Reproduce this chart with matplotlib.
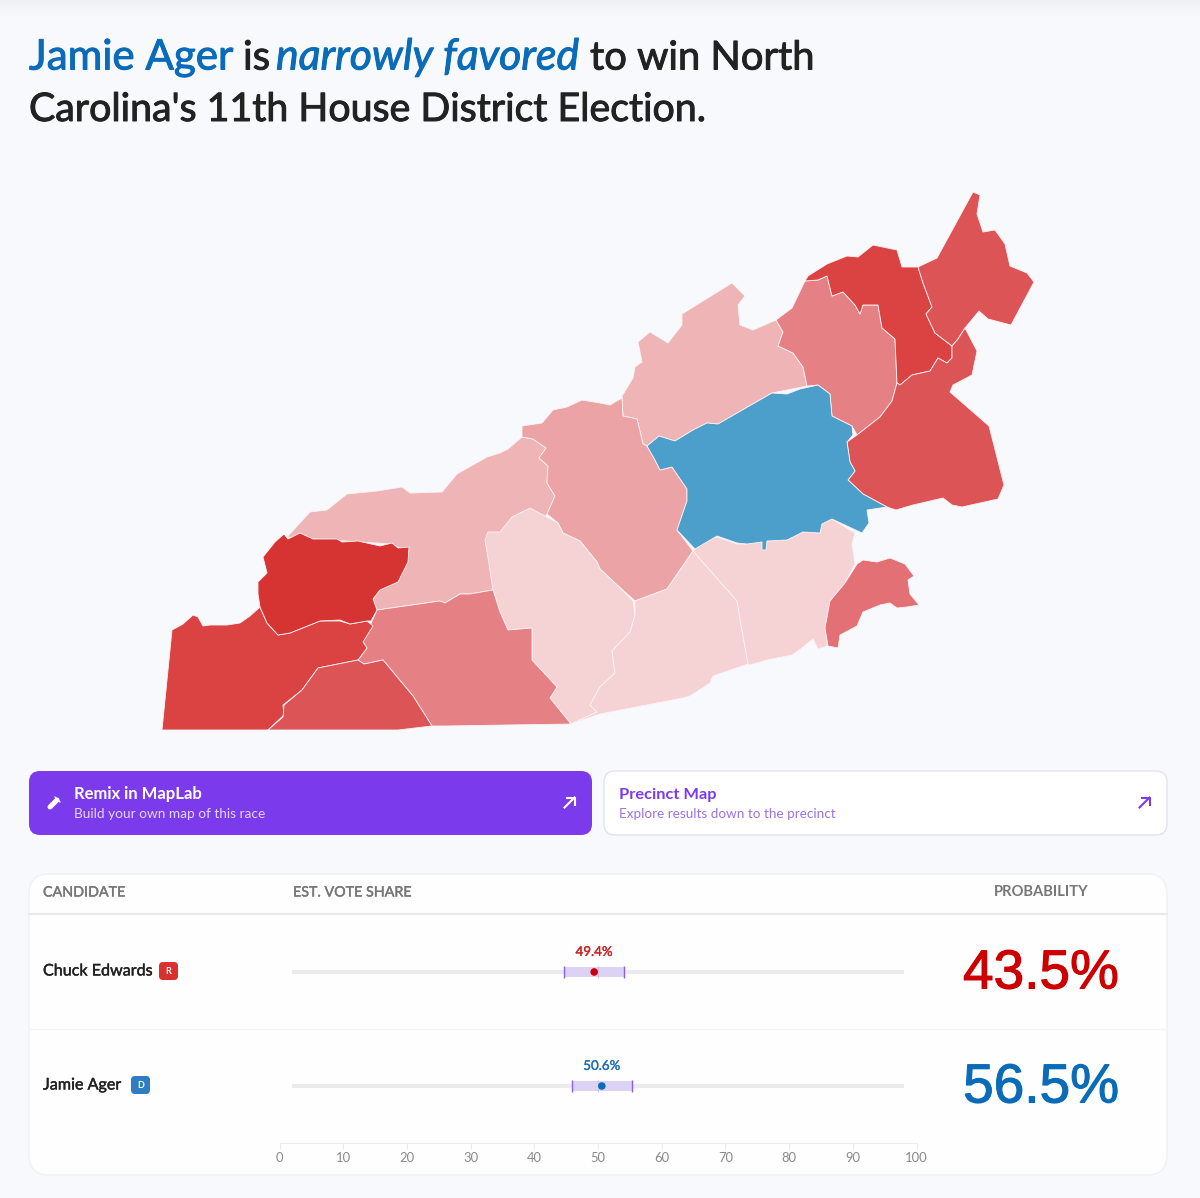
import numpy as np
import matplotlib
matplotlib.use('Agg')
import matplotlib.pyplot as plt
import matplotlib.patheffects as pe
from matplotlib.patches import FancyBboxPatch, Polygon

plt.rcParams['font.family'] = ['Lato', 'DejaVu Sans']

# candidates table
candidates = ['Chuck Edwards', 'Jamie Ager']
parties = ['R', 'D']
vote_share = [49.4, 50.6]
vote_low = [44.7, 45.9]
vote_high = [54.1, 55.3]
win_prob = [43.5, 56.5]
track_range = [2, 98]
axis_ticks = [0, 10, 20, 30, 40, 50, 60, 70, 80, 90, 100]

# county outlines (image pixels)
swain = [(287,537),(300,523),(310,512),(327,510),(347,494),(377,491),(402,487),(410,493),(442,492),(457,474),
         (487,457),(500,453),(508,449),(522,437),(533,439),(546,448),(539,458),(548,466),(547,483),(555,496),
         (548,512),(520,560),(493,590),(470,594),(460,594),(445,603),(440,601),(377,610),(373,601),(377,590),
         (397,582),(409,551),(390,544)]
madison = [(622,396),(633,378),(635,367),(642,362),(638,342),(650,332),(668,343),(682,325),(682,314),(703,301),
           (732,283),(745,296),(738,305),(740,325),(753,330),(776,320),(783,332),(778,346),(793,353),(803,367),
           (807,386),(772,393),(718,424),(707,423),(693,430),(675,441),(659,436),(647,446),(643,444),(637,419),(623,416)]
haywood = [(522,426),(542,423),(553,410),(567,407),(582,400),(600,403),(610,405),(622,398),(623,416),(637,419),
           (643,444),(647,446),(655,460),(660,470),(672,467),(687,489),(687,501),(677,530),(693,551),(667,589),
           (635,601),(615,583),(600,569),(597,562),(580,541),(563,533),(558,523),(547,514),(555,496),(547,483),
           (548,466),(539,458),(546,448),(533,439),(522,437)]
jackson = [(485,540),(488,532),(500,532),(512,517),(530,508),(558,523),(563,533),(580,541),(597,562),(600,569),
           (615,583),(633,601),(635,615),(630,632),(612,651),(615,673),(600,687),(590,705),(597,712),(571,724),
           (550,698),(557,687),(532,660),(532,628),(508,630),(500,612),(493,590),(488,558)]
transylvania = [(635,601),(667,589),(693,551),(737,601),(740,619),(748,664),(713,676),(710,683),(690,696),(683,698),
                (600,714),(571,724),(597,712),(590,705),(600,687),(615,673),(612,651),(630,632),(635,615)]
henderson = [(693,551),(707,539),(717,537),(737,544),(747,544),(755,542),(763,542),(765,549),(767,541),(787,540),
             (803,532),(820,533),(822,524),(832,519),(855,533),(852,544),(855,564),(845,583),(833,601),(827,626),
             (827,646),(818,649),(813,639),(802,648),(792,655),(767,660),(750,665),(748,664),(740,619),(737,601)]
macon = [(377,610),(440,601),(445,603),(460,594),(470,594),(493,590),(500,612),(508,630),(532,628),(532,660),
         (557,687),(550,698),(571,724),(445,726),(432,726),(413,696),(398,678),(383,660),(364,664),(358,660),
         (367,648),(363,642)]
polk = [(857,564),(863,560),(877,562),(890,558),(905,564),(914,576),(908,580),(910,594),(919,605),(907,607),
        (897,608),(890,603),(880,605),(863,612),(857,626),(840,635),(838,648),(828,646),(825,628),(830,601),(845,583)]
cherokee = [(172,630),(183,624),(193,615),(198,617),(203,626),(210,625),(227,625),(240,623),(250,616),(260,607),
            (267,623),(278,635),(290,633),(320,621),(340,621),(350,624),(367,621),(373,626),(363,642),(367,648),
            (358,660),(338,664),(318,668),(302,690),(283,705),(284,715),(268,730),(162,730)]
clay = [(268,730),(283,717),(284,705),(302,690),(318,668),(338,664),(358,660),(364,664),(383,660),(398,678),
        (413,696),(432,726),(398,730)]
graham = [(284,534),(288,539),(300,533),(313,539),(337,539),(342,542),(358,541),(380,546),(392,543),(398,548),
          (409,547),(408,562),(398,582),(380,590),(373,599),(377,610),(371,621),(367,621),(350,624),(340,620),
          (320,621),(290,633),(278,635),(267,623),(260,607),(258,594),(258,582),(267,573),(263,557),(275,542)]
yancey = [(776,320),(792,308),(805,281),(818,280),(827,276),(832,296),(843,292),(855,305),(860,314),(863,305),
          (878,305),(882,328),(895,339),(897,383),(892,401),(880,417),(857,435),(852,426),(832,416),(830,394),
          (818,385),(807,386),(803,367),(793,353),(778,346),(783,332)]
mitchell = [(808,276),(827,264),(847,256),(858,257),(873,245),(897,250),(902,267),(918,267),(923,283),(932,307),
            (926,314),(935,333),(952,346),(952,358),(947,363),(938,358),(930,371),(912,375),(900,385),(897,383),
            (895,339),(882,328),(878,305),(863,305),(860,314),(855,305),(843,292),(832,296),(827,276),(818,280),(805,281)]
avery = [(918,267),(937,258),(973,192),(980,195),(977,214),(983,232),(995,230),(1005,244),(1010,266),(1027,273),
         (1034,282),(1011,325),(988,319),(979,311),(965,328),(958,339),(952,346),(935,333),(926,314),(932,307),(923,283)]
mcdowell = [(900,385),(912,375),(930,371),(938,358),(947,363),(952,358),(952,346),(958,339),(965,328),(977,351),
            (972,375),(953,385),(950,392),(989,426),(1004,485),(998,499),(962,507),(952,505),(943,498),(913,505),
            (896,510),(887,507),(863,494),(848,480),(855,471),(850,462),(847,442),(857,435),(880,417),(892,401),(897,383)]
buncombe = [(647,446),(659,436),(675,441),(693,430),(707,423),(718,424),(772,393),(787,394),(800,389),(818,385),
            (830,394),(832,416),(852,426),(853,435),(847,442),(850,462),(855,471),(848,480),(863,494),(887,507),
            (867,510),(869,523),(862,533),(832,519),(822,524),(820,533),(803,532),(787,540),(767,541),(766,550),
            (762,550),(762,542),(747,544),(737,543),(717,536),(695,549),(677,530),(687,501),(687,489),(672,467),
            (660,470),(655,460)]

county_shapes = [swain, madison, haywood, jackson, transylvania, henderson, macon, polk,
                 cherokee, clay, graham, yancey, mitchell, avery, mcdowell, buncombe]
county_colors = ['#efb4b6', '#efb4b6', '#eca3a5', '#f5d3d5', '#f5d3d5', '#f5d3d5', '#e58084', '#e37074',
                 '#db4343', '#dd5457', '#d63333', '#e58084', '#db4343', '#dd5457', '#dd5457', '#4d9fcb']

BG = '#f8f9fd'
PURPLE = '#7c3aed'
RED = '#cc0000'
BLUE = '#0a6cb8'
party_colors = ['#d9312e', '#2f7cc3']
label_colors = ['#cc2222', '#1f6fb5']
prob_colors = [RED, BLUE]


def heavier(width, col):
    # the reference uses a medium weight that Lato does not have here
    return [pe.withStroke(linewidth=width, foreground=col)]


fig = plt.figure(figsize=(12, 11.98), dpi=100, facecolor=BG)
ax = fig.add_axes([0, 0, 1, 1])
ax.set_axis_off()

# strip along the top edge
ax.imshow(np.linspace(0, 1, 16).reshape(-1, 1), extent=(0, 1200, 16, 0), aspect='auto',
          cmap=matplotlib.colors.LinearSegmentedColormap.from_list('strip', ['#eeeff2', BG]))
ax.set_xlim(0, 1200)
ax.set_ylim(1198, 0)

# title, one piece per colour / style, sized to the widths in the reference
title_parts = [('Jamie Ager', 29, 69.5, '#0a6cb8', 'normal', 30.3),
               ('is', 243, 69.5, '#222222', 'normal', 29),
               ('narrowly favored', 276, 69.5, '#0a6cb8', 'italic', 30.8),
               ('to win North', 590, 69.5, '#222222', 'normal', 28.7),
               ("Carolina's 11th House District Election.", 29, 121, '#222222', 'normal', 28.3)]
for txt, x, y, col, sty, size in title_parts:
    ax.text(x, y, txt, fontsize=size, color=col, style=sty, va='baseline', ha='left',
            path_effects=heavier(0.7, col))

# map
for shape, col in zip(county_shapes, county_colors):
    ax.add_patch(Polygon(shape, closed=True, facecolor=col, edgecolor='#fdf3f3', lw=0.6, joinstyle='round'))

# buttons
ax.add_patch(FancyBboxPatch((29, 771), 563, 64, boxstyle='round,pad=0,rounding_size=11', fc=PURPLE, ec='none'))
ax.add_patch(FancyBboxPatch((604, 771), 563, 64, boxstyle='round,pad=0,rounding_size=11', fc='white', ec='#e3ddf6', lw=0.9))
ax.text(74, 794.5, 'Remix in MapLab', fontsize=12, weight='bold', color='white', va='center')
ax.text(74, 814, 'Build your own map of this race', fontsize=9.8, color='#e2d6fb', va='center')
ax.text(619, 794.5, 'Precinct Map', fontsize=11.8, weight='bold', color=PURPLE, va='center')
ax.text(619, 814, 'Explore results down to the precinct', fontsize=9.75, color='#9b72e8', va='center')
ax.plot([50, 57], [807, 800], color='white', lw=3.6, solid_capstyle='round')
ax.plot([55, 60], [797, 802], color='white', lw=1, solid_capstyle='round')
for x, col in [(569.5, 'white'), (1144.5, PURPLE)]:
    ax.plot([x - 5, x + 5], [807.5, 797.5], color=col, lw=1.5)
    ax.plot([x - 2.5, x + 5.5, x + 5.5], [797.5, 797.5, 805], color=col, lw=1.5)

# table panel
ax.add_patch(FancyBboxPatch((29, 874), 1138, 301, boxstyle='round,pad=0,rounding_size=20', fc='#fefefe', ec='#f0f1f4', lw=1))
ax.plot([29, 1167], [914, 914], color='#e9e9ec', lw=1.5)
ax.plot([29, 1167], [1028.5, 1028.5], color='#f4f4f6', lw=1)
ax.text(43, 892.5, 'CANDIDATE', fontsize=10.3, color='#777777', va='center', path_effects=heavier(0.3, '#777777'))
ax.text(293, 892.5, 'EST. VOTE SHARE', fontsize=10.3, color='#777777', va='center', path_effects=heavier(0.3, '#777777'))
ax.text(1041, 892.5, 'PROBABILITY', fontsize=10.6, color='#777777', va='center', ha='center', weight='bold')

row_y = [971, 1085]
badge_x = [159, 131]
for i, name in enumerate(candidates):
    ax.text(43, row_y[i] + 0.5, name, fontsize=11.6, color='#222222', va='center', path_effects=heavier(0.3, '#222222'))
    ax.add_patch(FancyBboxPatch((badge_x[i], row_y[i] - 9), 19, 18, boxstyle='round,pad=0,rounding_size=4',
                                fc=party_colors[i], ec='none'))
    ax.text(badge_x[i] + 9.5, row_y[i] + 0.5, parties[i], fontsize=6.5, weight='bold', color='white',
            va='center', ha='center')
    ax.text(1041, row_y[i] + 3.5, f'{win_prob[i]}%', fontsize=39.6, color=prob_colors[i], va='center', ha='center',
            family='Liberation Sans', path_effects=heavier(0.8, prob_colors[i]))

# vote share strip, on its own 0-100 axis
vx = fig.add_axes([279.5 / 1200, 1 - 1143 / 1198, 637 / 1200, 218 / 1198])
vx.patch.set_alpha(0)
vx.set_xlim(0, 100)
vx.set_ylim(1.5, -0.412)
y_pos = np.arange(len(candidates))
vx.barh(y_pos, track_range[1] - track_range[0], left=track_range[0], height=0.04, color='#ebebeb')
vx.barh(y_pos, np.array(vote_high) - np.array(vote_low), left=vote_low, height=0.09, color='#dcd2f3')
vx.vlines([50, 50], y_pos - 0.05, y_pos + 0.05, color='#c9b8ea', lw=0.6)
for ends in (vote_low, vote_high):
    vx.plot(ends, y_pos, ls='none', marker='|', ms=8.5, mew=1.0, color='#8b5cf6')
vx.scatter(vote_share, y_pos, s=30, c=prob_colors, zorder=3, linewidths=0)
for i, v in enumerate(vote_share):
    vx.annotate(f'{v}%', (v, i), xytext=(0, 14.5), textcoords='offset points', ha='center', va='center',
                fontsize=9.6, color=label_colors[i], path_effects=heavier(0.25, label_colors[i]))
vx.set_xticks(axis_ticks)
vx.set_yticks([])
vx.tick_params(axis='x', length=4, width=0.8, color='#ececec', labelsize=9.4, labelcolor='#8a8a8a', pad=2.5)
for side in ['top', 'left', 'right']:
    vx.spines[side].set_visible(False)
vx.spines['bottom'].set_color('#ececec')
vx.spines['bottom'].set_linewidth(0.8)

fig.savefig('out.png', dpi=100)
